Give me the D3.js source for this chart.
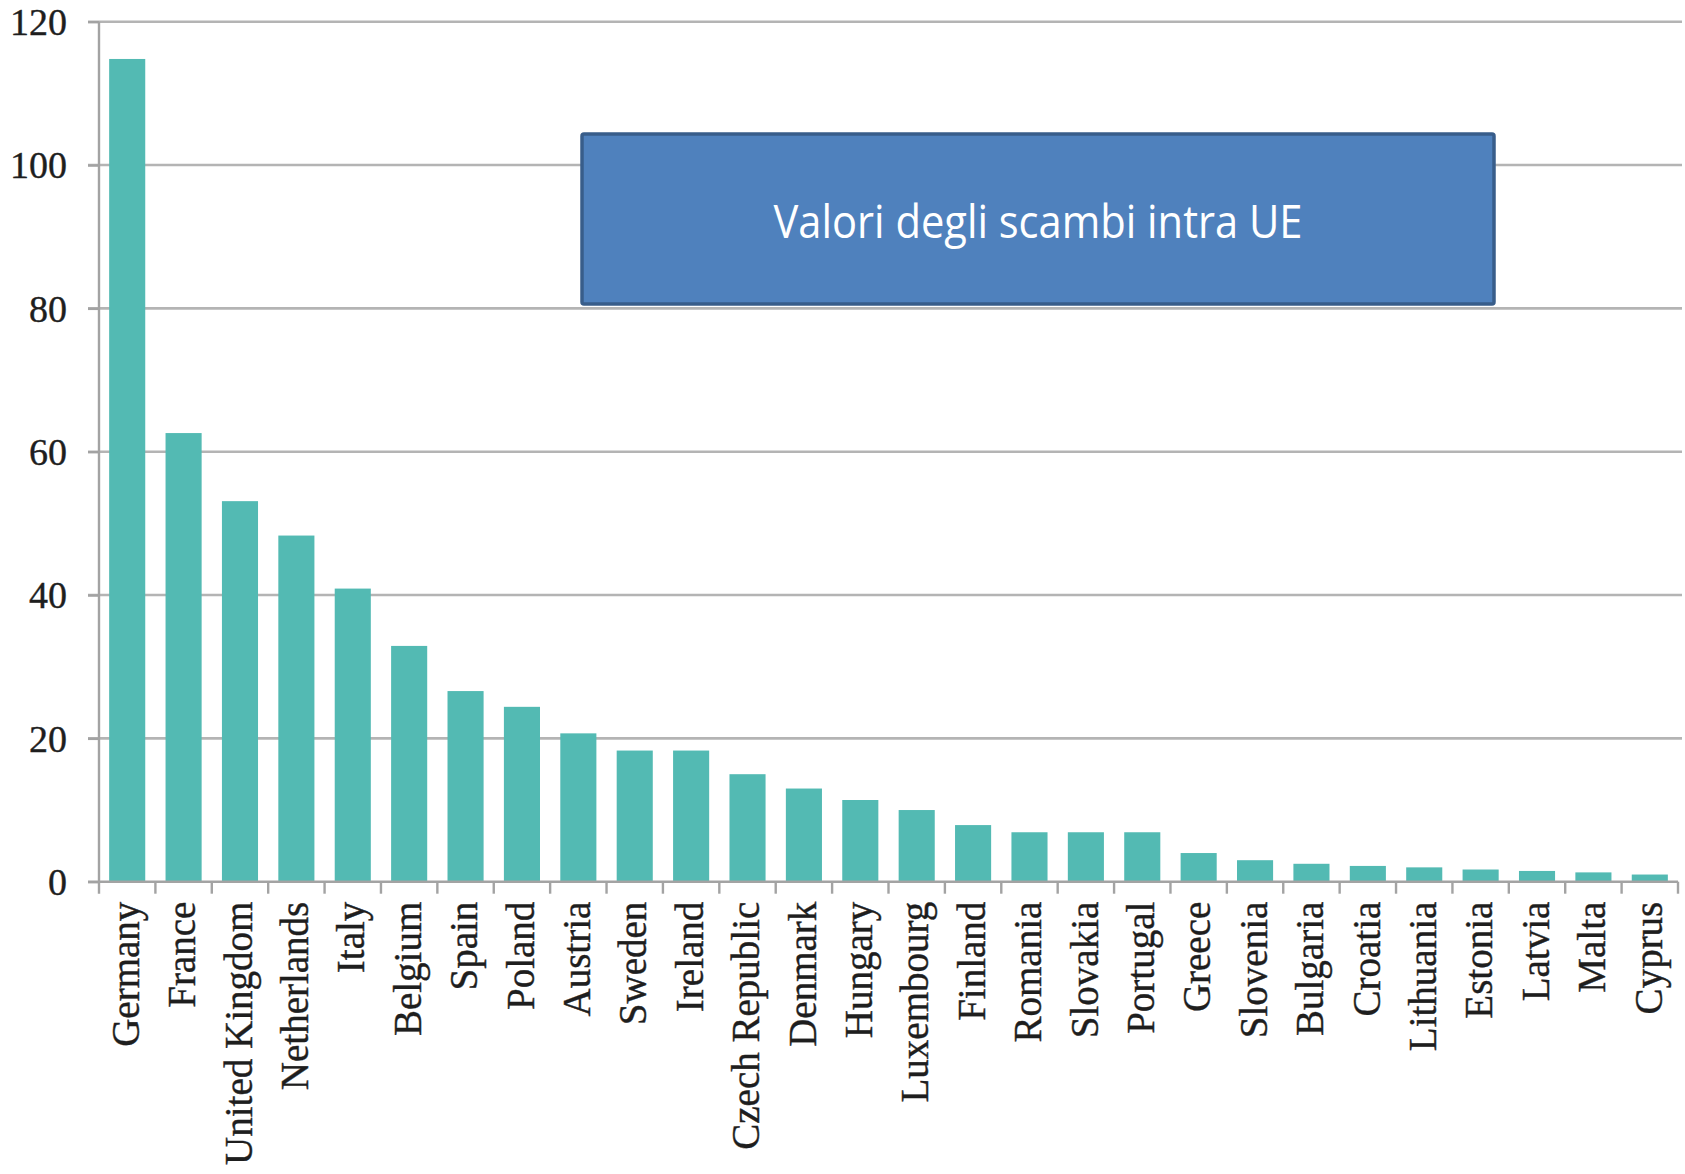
<!DOCTYPE html>
<html>
<head>
<meta charset="utf-8">
<script src="https://cdn.jsdelivr.net/npm/d3@7"></script>
<style>
  html, body { margin: 0; padding: 0; background: #ffffff; }
  svg { display: block; }
</style>
</head>
<body>
<svg id="chart" width="1685" height="1174"></svg>
<script>
// Intra-EU trade values by member state
const countries = [
  "Germany", "France", "United Kingdom", "Netherlands", "Italy", "Belgium",
  "Spain", "Poland", "Austria", "Sweden", "Ireland", "Czech Republic",
  "Denmark", "Hungary", "Luxembourg", "Finland", "Romania", "Slovakia",
  "Portugal", "Greece", "Slovenia", "Bulgaria", "Croatia", "Lithuania",
  "Estonia", "Latvia", "Malta", "Cyprus"
];
const tradeValues = [
  114.8, 62.6, 53.1, 48.3, 40.9, 32.9,
  26.6, 24.4, 20.7, 18.3, 18.3, 15.0,
  13.0, 11.4, 10.0, 7.9, 6.9, 6.9,
  6.9, 4.0, 3.0, 2.5, 2.2, 2.0,
  1.7, 1.5, 1.3, 1.0
];
const yTicks = [0, 20, 40, 60, 80, 100, 120];
const titleText = "Valori degli scambi intra UE";

const svg = d3.select("#chart");

const plot = { left: 99, right: 1678, top: 21.7, bottom: 881.7 };

const x = d3.scaleBand()
  .domain(countries)
  .range([plot.left, plot.right])
  .paddingInner(0.36)
  .paddingOuter(0.18);

const y = d3.scaleLinear()
  .domain([0, 120])
  .range([plot.bottom, plot.top]);

const axisColor = "#a3a3a3";
const gridColor = "#b4b4b4";
const textColor = "#1e1e1e";
const serif = "'Liberation Serif', 'Times New Roman', serif";

// horizontal gridlines
svg.append("g")
  .selectAll("line")
  .data(yTicks.filter(d => d !== 0))
  .join("line")
  .attr("x1", plot.left - 11)
  .attr("x2", 1682)
  .attr("y1", d => y(d))
  .attr("y2", d => y(d))
  .attr("stroke", gridColor)
  .attr("stroke-width", 2.6);

// bars
svg.append("g")
  .selectAll("rect")
  .data(countries.map((c, i) => ({ c, v: tradeValues[i] })))
  .join("rect")
  .attr("x", d => x(d.c))
  .attr("width", x.bandwidth())
  .attr("y", d => y(d.v))
  .attr("height", d => y(0) - y(d.v))
  .attr("fill", "#53bab3");

// y axis: labels and short ticks
const yAxis = svg.append("g")
  .attr("transform", `translate(${plot.left},0)`)
  .call(d3.axisLeft(y).tickValues(yTicks).tickSize(11).tickSizeOuter(0).tickPadding(21));
yAxis.select(".domain").remove();
yAxis.selectAll(".tick line").attr("stroke", axisColor).attr("stroke-width", 2.4);
yAxis.selectAll(".tick text")
  .attr("font-family", serif)
  .attr("font-size", 38)
  .attr("fill", textColor)
  .attr("stroke", textColor)
  .attr("stroke-width", 0.4)
  .attr("dy", "0.34em");

// vertical axis line
svg.append("line")
  .attr("x1", plot.left).attr("x2", plot.left)
  .attr("y1", plot.top).attr("y2", plot.bottom + 12)
  .attr("stroke", axisColor).attr("stroke-width", 2.4);

// baseline
svg.append("line")
  .attr("x1", plot.left - 11).attr("x2", plot.right)
  .attr("y1", y(0)).attr("y2", y(0))
  .attr("stroke", axisColor).attr("stroke-width", 2.6);

// category separator ticks below the baseline
const step = x.step();
const gapHalf = step * x.paddingInner() / 2;
const boundaries = countries.map(c => x(c) - gapHalf).concat([plot.right]);
svg.append("g")
  .selectAll("line")
  .data(boundaries.slice(1))
  .join("line")
  .attr("x1", d => d).attr("x2", d => d)
  .attr("y1", y(0)).attr("y2", y(0) + 12)
  .attr("stroke", axisColor).attr("stroke-width", 2.4);

// rotated category labels
svg.append("g")
  .selectAll("text")
  .data(countries)
  .join("text")
  .attr("transform", d => `translate(${x(d) + x.bandwidth() / 2},${plot.bottom + 20}) rotate(-90)`)
  .attr("text-anchor", "end")
  .attr("dy", "0.3em")
  .attr("font-family", serif)
  .attr("font-size", 39)
  .attr("fill", textColor)
  .attr("stroke", textColor)
  .attr("stroke-width", 0.4)
  .text(d => d);

// title box
const box = { x0: 582, x1: 1494, y0: 134, y1: 304 };
svg.append("rect")
  .attr("x", box.x0).attr("y", box.y0)
  .attr("width", box.x1 - box.x0).attr("height", box.y1 - box.y0)
  .attr("rx", 2)
  .attr("fill", "#4f81bd")
  .attr("stroke", "#385d8a")
  .attr("stroke-width", 3.5);

svg.append("text")
  .attr("x", (box.x0 + box.x1) / 2)
  .attr("y", 238)
  .attr("text-anchor", "middle")
  .attr("font-family", "'Open Sans', 'Noto Sans', sans-serif")
  .attr("font-size", 45)
  .attr("textLength", 529)
  .attr("lengthAdjust", "spacingAndGlyphs")
  .attr("fill", "#ffffff")
  .text(titleText);
</script>
</body>
</html>
